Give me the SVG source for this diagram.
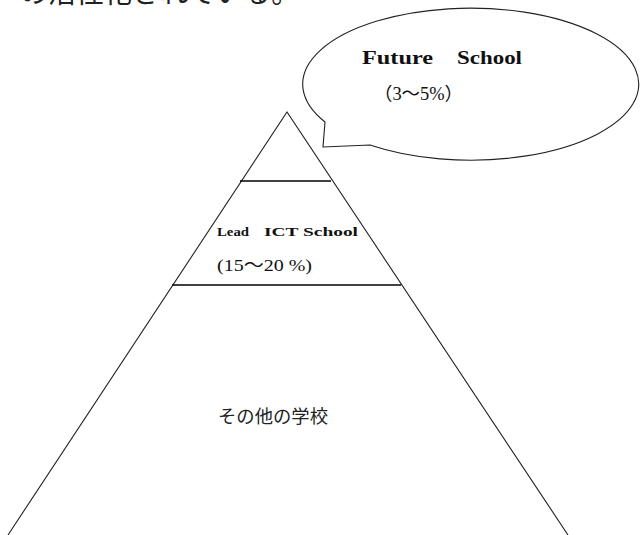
<svg xmlns="http://www.w3.org/2000/svg" width="640" height="535" viewBox="0 0 640 535">
<style>
.ln{stroke:#222;fill:none;stroke-width:1.1}
.bar{stroke:#000;fill:none;stroke-width:1.6}
.ser{font-family:"Liberation Serif","Noto Sans CJK JP",serif;fill:#111}
.jp{font-family:"Noto Sans CJK JP","Liberation Serif",sans-serif;fill:#222}
</style>
<rect width="640" height="535" fill="#fff"/>
<text class="jp" x="20" y="3" font-size="28">の活性化されている。</text>
<g id="pyramid">
<path class="ln" d="M 8 535 L 287 112 L 568 535"/>
<line class="bar" x1="240" y1="181" x2="331" y2="181"/>
<line class="bar" x1="172" y1="285" x2="401" y2="285"/>
</g>
<g id="callout">
<path class="ln" d="M 325 122 L 323 147 L 370 145 A 168 76 0 1 0 325 122 Z"/>
<text class="ser" x="362" y="64" font-size="19" font-weight="bold" textLength="71" lengthAdjust="spacingAndGlyphs">Future</text>
<text class="ser" x="457" y="64" font-size="19" font-weight="bold" textLength="65" lengthAdjust="spacingAndGlyphs">School</text>
<text class="ser" x="374" y="100" font-size="18" textLength="89" lengthAdjust="spacingAndGlyphs">（3～5%）</text>
</g>
<g id="lead">
<text class="ser" x="217" y="236" font-size="13" font-weight="bold" textLength="32" lengthAdjust="spacingAndGlyphs">Lead</text>
<text class="ser" x="264" y="236" font-size="13" font-weight="bold" textLength="94" lengthAdjust="spacingAndGlyphs">ICT School</text>
<text class="ser" x="217" y="271" font-size="17" textLength="95" lengthAdjust="spacingAndGlyphs">(15～20 %)</text>
</g>
<g id="others">
<text class="jp" x="218" y="423" font-size="18" textLength="110" lengthAdjust="spacingAndGlyphs" fill="#333">その他の学校</text>
</g>
</svg>
